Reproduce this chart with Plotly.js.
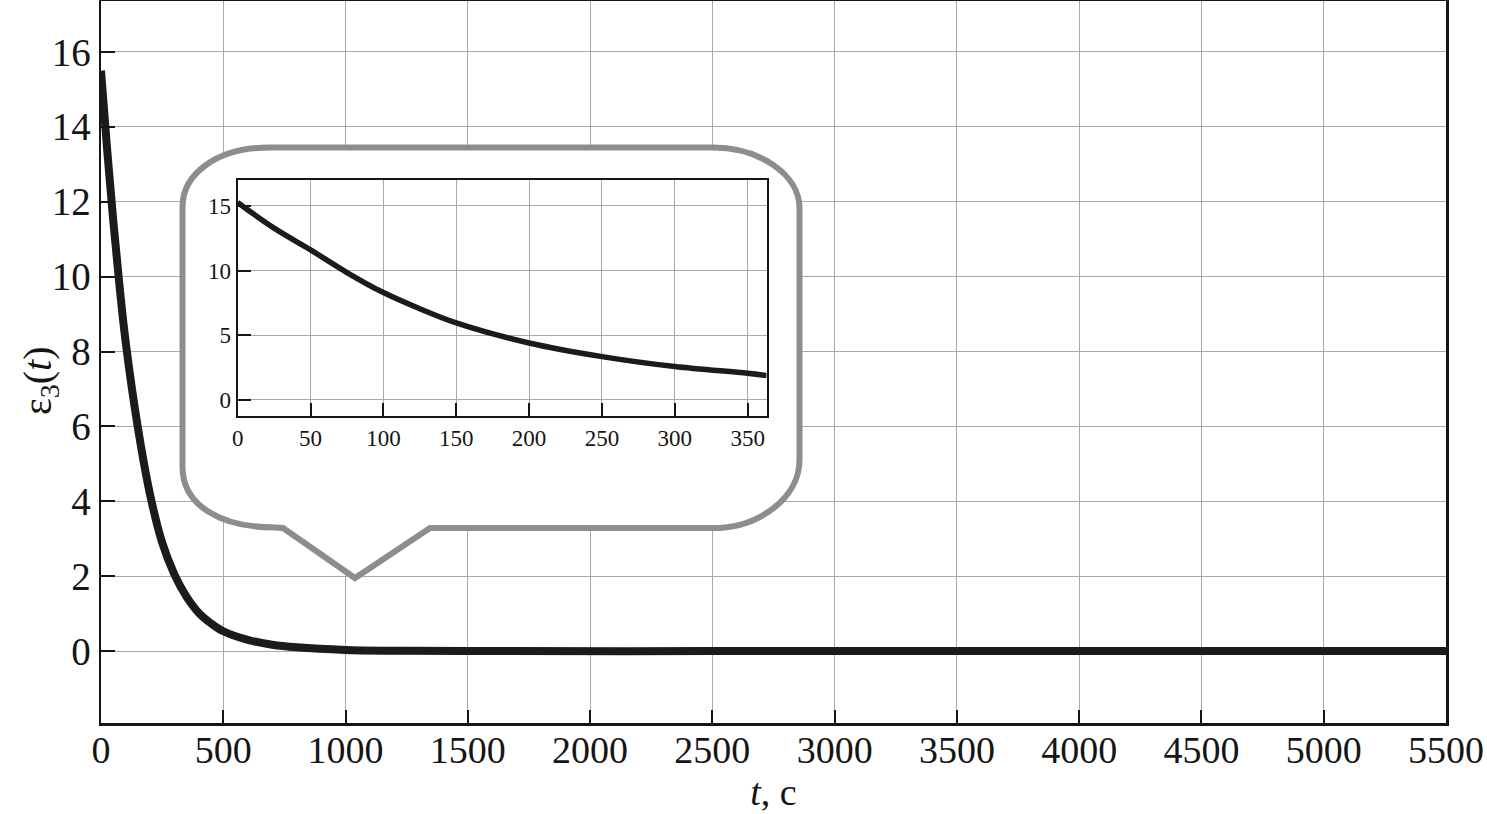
<!DOCTYPE html>
<html><head><meta charset="utf-8">
<script src="https://cdn.plot.ly/plotly-3.0.1.min.js"></script>
<style>html,body{margin:0;padding:0;background:#fff;}#chart{width:1487px;height:814px;}</style>
</head><body><div id="chart"></div>
<script>
// ---- data ----
const mainT = [0, 25, 50, 75, 100, 150, 200, 250, 300, 350, 400, 450, 500, 600, 700, 800, 1000, 1200, 1500, 2500, 3500, 4500, 5500];
const mainE = [15.5, 13.4, 11.5, 9.8, 8.3, 6.0, 4.2, 2.9, 2.05, 1.45, 1.02, 0.74, 0.53, 0.3, 0.17, 0.1, 0.03, 0.01, 0, 0, 0, 0, 0];
const insetT = [0, 25, 50, 75, 100, 125, 150, 200, 250, 300, 350, 363];
const insetE = [15.26, 13.28, 11.6, 9.85, 8.3, 7.05, 5.95, 4.4, 3.35, 2.58, 2.06, 1.88];
const mainXTicks = [0, 500, 1000, 1500, 2000, 2500, 3000, 3500, 4000, 4500, 5000, 5500];
const mainYTicks = [0, 2, 4, 6, 8, 10, 12, 14, 16];
const insetXTicks = [0, 50, 100, 150, 200, 250, 300, 350];
const insetYTicks = [0, 5, 10, 15];

// ---- geometry ----
const W = 1487, H = 814;
const M = {l: 101, r: 41, t: 1, b: 91};
const xR = [0, 5500], yR = [-1.92, 17.36];
const pw = W - M.l - M.r, ph = H - M.t - M.b;
const tx = px => xR[0] + (px - M.l) / pw * (xR[1] - xR[0]);
const vy = py => yR[1] - (py - M.t) / ph * (yR[1] - yR[0]);
const P = (px, py) => tx(px).toFixed(3) + ',' + vy(py).toFixed(4);
const callout =
  'M' + P(182.5, 207) +
  ' C' + P(182.5, 175) + ' ' + P(215, 147.5) + ' ' + P(270, 147.5) +
  ' L' + P(713, 147.5) +
  ' C' + P(760, 147.5) + ' ' + P(799.5, 175) + ' ' + P(799.5, 208) +
  ' L' + P(799.5, 460) +
  ' C' + P(799.5, 497) + ' ' + P(760, 528) + ' ' + P(713, 528) +
  ' L' + P(430, 528) +
  ' L' + P(355, 578) +
  ' L' + P(283, 528) +
  ' L' + P(275, 527.5) +
  ' C' + P(220, 527.5) + ' ' + P(182.5, 505) + ' ' + P(182.5, 467) + ' Z';

const FONT = "'Liberation Serif', 'Times New Roman', serif";
const INK = '#151515';
const GRID = '#a9a9a9';

const traces = [
  {x: mainT, y: mainE, xaxis: 'x', yaxis: 'y', mode: 'lines',
   line: {color: '#1b1b1b', width: 8, shape: 'spline', smoothing: 1}, hoverinfo: 'skip'},
  {x: insetT, y: insetE, xaxis: 'x2', yaxis: 'y2', mode: 'lines',
   line: {color: '#1b1b1b', width: 5.5, shape: 'spline', smoothing: 1}, hoverinfo: 'skip'}
];

const axBase = {
  ticks: 'inside', tickcolor: INK, showline: true, linecolor: INK, mirror: true,
  showgrid: true, gridcolor: GRID, gridwidth: 1, zeroline: false, fixedrange: true
};

const layout = {
  width: W, height: H, margin: M, showlegend: false,
  paper_bgcolor: '#ffffff', plot_bgcolor: '#ffffff',
  font: {family: FONT, color: INK},
  xaxis: Object.assign({}, axBase, {
    range: xR, tickvals: mainXTicks, ticklen: 13, tickwidth: 2, linewidth: 2.5,
    ticklabelstandoff: -8,
    tickfont: {family: FONT, size: 38, color: INK},
    title: {text: '<i>t</i>, с', font: {family: FONT, size: 38, color: INK}, standoff: 2}
  }),
  yaxis: Object.assign({}, axBase, {
    range: yR, tickvals: mainYTicks, ticklen: 14, tickwidth: 2, linewidth: 2.5,
    tickfont: {family: FONT, size: 39, color: INK}
  }),
  xaxis2: Object.assign({}, axBase, {
    anchor: 'y2', domain: [0.1016, 0.4949], range: [0, 363], tickvals: insetXTicks,
    ticklen: 13, tickwidth: 2, linewidth: 2,
    tickfont: {family: FONT, size: 23, color: INK}
  }),
  yaxis2: Object.assign({}, axBase, {
    anchor: 'x2', domain: [0.4252, 0.7521], range: [-1.24, 17.0], tickvals: insetYTicks,
    ticklen: 13, tickwidth: 2, linewidth: 2,
    tickfont: {family: FONT, size: 23, color: INK}
  }),
  shapes: [{
    type: 'path', xref: 'x', yref: 'y', layer: 'between', path: callout,
    fillcolor: '#ffffff', line: {color: '#8d8d8d', width: 6}
  }],
  annotations: [{
    xref: 'paper', yref: 'paper', x: (40 - M.l) / pw, y: (H - M.b - 381) / ph,
    xanchor: 'center', yanchor: 'middle', textangle: -90, showarrow: false,
    text: 'ε<sub>3</sub>(<i>t</i>)', font: {family: FONT, size: 40, color: INK}
  }]
};

Plotly.newPlot('chart', traces, layout, {displayModeBar: false, staticPlot: true});
</script>
</body></html>
